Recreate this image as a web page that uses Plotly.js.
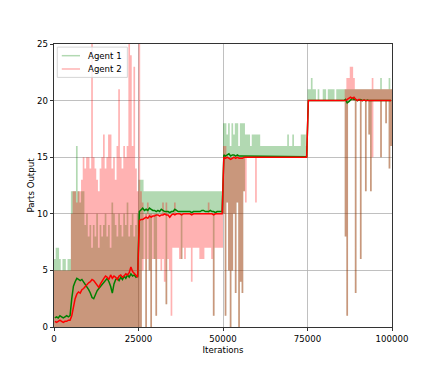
<!DOCTYPE html>
<html>
<head>
<meta charset="utf-8">
<script src="https://cdn.plot.ly/plotly-3.0.1.min.js"></script>
<style>
  html, body { margin: 0; padding: 0; background: #fff; }
  #plot { width: 436px; height: 374px; }
</style>
</head>
<body>
<div id="plot"></div>
<script>
// each value covers one bin of 500 iterations (200 bins, 0..100000)
const BIN = 500

// Agent 1 raw output, lowest / highest value seen in each bin
const agent1Max = [
  6,7,7,6,5,6,6,5,6,6,
  12,12,12,16,12,11,12,12,9,10,
  8,9,7,9,8,10,7,9,8,9,
  10,8,9,7,11,10,9,8,10,9,
  8,10,9,11,8,9,10,8,9,10,
  13,13,13,12,12,12,12,12,12,12,
  12,12,12,12,12,12,12,12,12,12,
  12,12,12,12,12,12,12,12,12,12,
  12,12,12,12,12,12,12,12,12,12,
  12,12,12,12,12,12,12,12,12,12,
  18,18,17,18,16,18,17,18,18,16,
  18,18,18,17,17,17,16,17,17,17,
  17,17,16,16,16,16,16,16,16,16,
  16,16,16,16,16,16,16,16,17,16,
  16,17,16,16,16,16,17,17,17,16,
  21,21,22,21,21,20,21,20,20,21,
  21,20,21,21,21,21,20,21,21,21,
  21,21,21,21,21,21,21,21,21,21,
  21,21,21,21,21,21,21,21,21,21,
  21,21,21,22,21,21,21,21,22,21
]
const agent1Min = [
  0,0,0,0,0,0,0,0,0,0,
  0,0,0,0,0,0,0,0,0,0,
  0,0,0,0,0,0,0,0,0,0,
  0,0,0,0,0,0,0,0,0,0,
  0,0,0,0,0,0,0,0,0,0,
  0,0,6,10,0,10,5,0,10,6,
  1,10,10,10,10,10,2,10,10,10,
  10,10,10,10,10,6,10,10,10,10,
  10,10,10,10,10,10,10,10,10,10,
  10,10,10,10,1,10,10,10,10,10,
  10,1,11,5,0,5,10,3,11,0,
  4,3,12,15,15,15,15,15,15,15,
  15,15,15,15,15,15,15,15,15,15,
  15,15,15,15,15,15,15,15,15,15,
  15,15,15,15,15,15,15,15,15,15,
  20,20,20,20,20,20,20,20,20,20,
  20,20,20,20,20,20,20,20,20,20,
  20,20,8,1,20,20,20,20,3,20,
  20,6,20,20,12,20,17,12,20,20,
  20,20,20,15,20,20,18,20,14,16
]

// Agent 2 raw output, lowest / highest value seen in each bin
const agent2Max = [
  5,5,5,5,5,5,5,5,5,5,
  10,12,12,11,12,12,13,15,14,15,
  15,14,25,15,14,13,12,14,15,17,
  14,15,17,17,14,15,13,16,21,15,
  14,16,15,16,25,24,16,23,14,12,
  25,12,11,10,10,11,10,10,10,10,
  10,10,10,10,11,10,11,10,10,10,
  10,11,10,10,10,10,10,10,10,10,
  10,10,10,10,10,10,10,10,10,10,
  10,11,10,10,10,10,10,10,10,10,
  16,16,15,15,15,15,15,15,15,15,
  15,15,15,15,15,15,15,15,15,15,
  15,15,15,15,15,15,15,15,15,15,
  15,15,15,15,15,15,15,15,15,15,
  15,15,15,15,15,15,15,15,15,15,
  20,20,20,20,20,20,20,20,20,20,
  20,20,20,20,20,20,20,20,20,20,
  20,20,21,22,22,23,23,22,21,21,
  21,21,21,21,21,21,21,21,22,21,
  21,21,21,21,21,21,21,21,21,21
]
const agent2Min = [
  0,0,0,0,0,0,0,0,0,0,
  0,0,0,0,0,0,0,0,0,0,
  0,0,0,0,0,0,0,0,0,0,
  0,0,0,0,0,0,0,0,0,0,
  0,0,0,0,0,0,0,0,0,0,
  0,0,5,6,0,6,5,0,6,6,
  1,6,6,5,6,4,2,6,5,1,
  7,7,7,7,6,6,7,6,7,7,
  7,4,7,7,7,7,6,6,6,7,
  7,7,7,6,1,7,7,7,7,7,
  10,1,11,5,0,5,10,3,11,0,
  4,3,12,11,15,15,15,15,15,11,
  15,15,15,15,15,15,15,15,15,15,
  15,15,15,15,15,15,15,15,15,15,
  15,15,15,15,15,15,15,15,15,15,
  20,20,20,20,20,20,20,20,20,20,
  20,20,20,20,20,20,20,20,20,20,
  20,20,8,1,20,20,20,20,3,20,
  20,6,20,20,12,20,17,12,15,20,
  20,20,20,15,20,20,18,20,14,16
]

// running averages (one value per bin)
const agent1Avg = [
  0.8,0.9,0.8,1.0,0.9,0.8,0.9,1.0,0.9,1.0,
  2.5,3.6,4.0,4.3,4.2,4.1,4.2,4.0,3.7,3.5,
  3.3,3.0,2.6,2.5,2.9,3.2,3.4,3.6,3.8,3.9,
  4.1,4.3,4.0,3.6,3.0,3.8,4.2,4.3,4.1,4.4,
  4.2,4.5,4.3,4.6,4.4,4.7,4.5,4.6,4.4,4.5,
  10.2,10.4,10.5,10.3,10.4,10.3,10.5,10.4,10.3,10.3,
  10.2,10.3,10.2,10.4,10.3,10.2,10.2,10.2,10.1,10.2,
  10.2,10.4,10.3,10.2,10.2,10.2,10.2,10.2,10.2,10.2,
  10.2,10.1,10.2,10.2,10.2,10.2,10.2,10.3,10.3,10.2,
  10.2,10.2,10.3,10.2,10.2,10.1,10.2,10.2,10.2,10.2,
  15.2,15.1,15.2,15.3,15.1,15.2,15.2,15.1,15.2,15.1,
  15.1,15.1,15.1,15.1,15.1,15.1,15.1,15.1,15.1,15.1,
  15.05,15.05,15.05,15.05,15.05,15.05,15.05,15.05,15.05,15.05,
  15.05,15.05,15.05,15.05,15.05,15.05,15.05,15.05,15.05,15.05,
  15.05,15.05,15.05,15.05,15.05,15.05,15.05,15.05,15.05,15.05,
  20.0,20.0,20.0,20.0,20.0,20.0,20.0,20.0,20.0,20.0,
  20.0,20.0,20.0,20.0,20.0,20.0,20.0,20.0,20.0,20.0,
  20.0,20.0,20.1,19.8,19.9,20.1,20.2,20.1,20.1,20.0,
  20.05,20.1,20.0,20.05,20.0,20.05,20.0,20.0,20.05,20.0,
  20.05,20.0,20.0,20.05,20.0,20.0,20.05,20.0,20.0,20.0
]
const agent2Avg = [
  0.5,0.4,0.5,0.6,0.5,0.4,0.5,0.5,0.6,0.6,
  1.0,1.8,2.5,2.9,3.1,3.0,3.3,3.4,3.6,3.8,
  3.9,4.0,4.2,4.1,3.9,3.6,3.5,3.8,4.1,4.3,
  4.5,4.4,4.2,4.6,4.3,4.5,4.4,4.2,4.5,4.6,
  4.4,4.5,4.7,4.6,4.8,5.3,4.9,4.7,4.6,4.4,
  9.4,9.5,9.5,9.6,9.7,9.6,9.8,9.7,9.8,9.8,
  9.9,9.9,9.8,9.9,9.9,10.0,9.9,9.9,9.7,9.9,
  10.0,9.9,10.0,10.0,10.0,9.9,10.0,10.0,10.0,10.0,
  10.0,9.9,10.0,10.0,10.0,10.0,10.0,10.0,10.0,10.0,
  10.0,10.0,10.0,10.0,9.9,10.0,10.0,10.0,10.0,10.0,
  15.0,14.9,15.0,14.9,14.8,14.9,15.0,14.9,15.0,14.9,
  14.9,14.9,15.0,15.0,15.0,15.0,15.0,15.0,15.0,15.0,
  15.0,15.0,15.0,15.0,15.0,15.0,15.0,15.0,15.0,15.0,
  15.0,15.0,15.0,15.0,15.0,15.0,15.0,15.0,15.0,15.0,
  15.0,15.0,15.0,15.0,15.0,15.0,15.0,15.0,15.0,15.0,
  20.0,20.0,20.0,20.0,20.0,20.0,20.0,20.0,20.0,20.0,
  20.0,20.0,20.0,20.0,20.0,20.0,20.0,20.0,20.0,20.0,
  20.0,20.0,20.0,20.1,20.2,20.3,20.2,20.3,20.1,20.0,
  20.1,20.0,20.0,20.05,20.0,20.0,20.0,20.0,20.0,20.0,
  20.0,20.0,20.0,20.0,20.0,20.0,20.0,20.0,20.0,20.0
]

const xTicks = [0, 25000, 50000, 75000, 100000]
const yTicks = [0, 5, 10, 15, 20, 25]
const seriesNames = ['Agent 1', 'Agent 2']

// raw signal range drawn as a closed band: along the highs, back along the lows
function band(lo, hi) {
    let x = [], y = []
    hi.forEach((v, i) => {
        x.push(i * BIN, (i + 1) * BIN)
        y.push(v, v)
    })
    for (let i = lo.length - 1; i >= 0; i--) {
        x.push((i + 1) * BIN, i * BIN)
        y.push(lo[i], lo[i])
    }
    return {x, y}
}
const binMid = agent1Avg.map((_, i) => i * BIN + BIN / 2)

const raw1 = band(agent1Min, agent1Max)
const raw2 = band(agent2Min, agent2Max)
const font = {family: 'DejaVu Sans', size: 8.6, color: '#000'}
const rawColors = ['rgba(0,128,0,0.3)', 'rgba(255,0,0,0.3)']

let traces = [
    {x: raw1.x, y: raw1.y, mode: 'lines', fill: 'toself', fillcolor: rawColors[0],
     type: 'scatter', line: {width: 0, simplify: false}, hoverinfo: 'skip'},
    {x: raw2.x, y: raw2.y, mode: 'lines', fill: 'toself', fillcolor: rawColors[1],
     type: 'scatter', line: {width: 0, simplify: false}, hoverinfo: 'skip'},
    {x: binMid, y: agent1Avg, mode: 'lines', type: 'scatter',
     line: {color: '#008000', width: 1.5}},
    {x: binMid, y: agent2Avg, mode: 'lines', type: 'scatter',
     line: {color: '#ff0000', width: 1.5}}
]

// matplotlib style legend box in the upper left corner (paper coords)
let shapes = [{
    type: 'rect', xref: 'paper', yref: 'paper', layer: 'above',
    x0: 0.0098, x1: 0.217, y0: 0.882, y1: 0.989,
    fillcolor: 'rgba(255,255,255,0.8)', line: {color: '#cccccc', width: 0.8}
}]
let annotations = []
const legendRows = [0.9587, 0.9117]
seriesNames.forEach((name, k) => {
    shapes.push({type: 'line', xref: 'paper', yref: 'paper', layer: 'above',
        x0: 0.023, x1: 0.077, y0: legendRows[k], y1: legendRows[k],
        line: {color: rawColors[k], width: 1.5}})
    annotations.push({xref: 'paper', yref: 'paper', x: 0.0947, y: legendRows[k],
        xanchor: 'left', yanchor: 'middle', showarrow: false, text: name, font: font})
})

const axisCommon = {
    showgrid: true, gridcolor: '#b0b0b0', gridwidth: 0.8,
    showline: true, mirror: true, linecolor: '#000', linewidth: 0.8,
    ticks: 'outside', ticklen: 3.5, tickwidth: 0.8, tickcolor: '#000',
    zeroline: false, tickfont: font, automargin: false
}

Plotly.newPlot('plot', traces, {
    width: 436, height: 374,
    margin: {l: 54, r: 44, t: 44, b: 47},
    paper_bgcolor: '#fff', plot_bgcolor: '#fff',
    font: font,
    showlegend: false,
    shapes: shapes,
    annotations: annotations,
    xaxis: Object.assign({}, axisCommon, {
        range: [0, 100000], tickvals: xTicks, ticktext: xTicks.map(String),
        title: {text: 'Iterations', font: font, standoff: 4}
    }),
    yaxis: Object.assign({}, axisCommon, {
        range: [0, 25], tickvals: yTicks, ticktext: yTicks.map(String),
        title: {text: 'Parts Output', font: font, standoff: 0}
    })
}, {staticPlot: true})
</script>
</body>
</html>
